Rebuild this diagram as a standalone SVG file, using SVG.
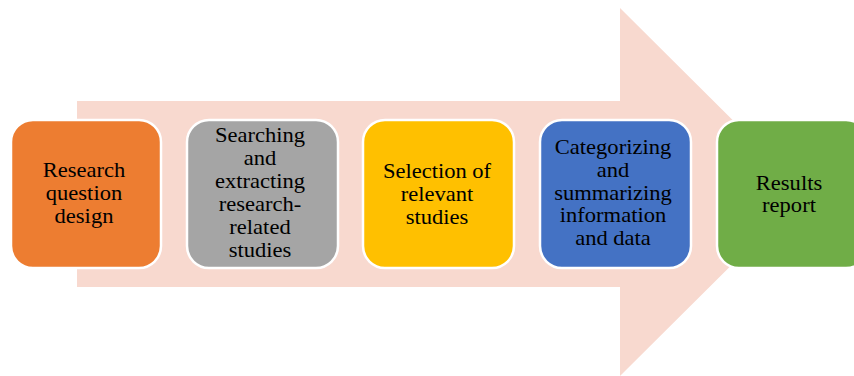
<svg xmlns="http://www.w3.org/2000/svg" width="854" height="376" viewBox="0 0 854 376">
<style>
.box{stroke:#fff;stroke-width:2.5}
text{font-family:'Liberation Serif','DejaVu Serif',serif;font-size:20.5px;fill:#000;text-anchor:middle}
</style>
<rect width="854" height="376" fill="#fff"/>
<g id="arrow">
<polygon points="77,101 620,101 620,8 805,192 620,376 620,287 77,287" fill="#F8D9CF"/>
</g>
<g id="n1">
<rect class="box" x="11" y="120" width="150" height="148" rx="22" fill="#ED7D31"/>
<g transform="translate(84,0) scale(1.1,1)">
<text x="0" y="177">Research</text>
<text x="0" y="200">question</text>
<text x="0" y="223">design</text>
</g>
</g>
<g id="n2">
<rect class="box" x="187" y="120" width="151" height="148" rx="22" fill="#A5A5A5"/>
<g transform="translate(260,0) scale(1.1,1)">
<text x="0" y="142">Searching</text>
<text x="0" y="165">and</text>
<text x="0" y="188">extracting</text>
<text x="0" y="211">research-</text>
<text x="0" y="234">related</text>
<text x="0" y="257">studies</text>
</g>
</g>
<g id="n3">
<rect class="box" x="363" y="120" width="151" height="148" rx="22" fill="#FFC000"/>
<g transform="translate(437,0) scale(1.1,1)">
<text x="0" y="178">Selection of</text>
<text x="0" y="201">relevant</text>
<text x="0" y="224">studies</text>
</g>
</g>
<g id="n4">
<rect class="box" x="540" y="120" width="151" height="148" rx="22" fill="#4472C4"/>
<g transform="translate(613,0) scale(1.1,1)">
<text x="0" y="154">Categorizing</text>
<text x="0" y="177">and</text>
<text x="0" y="200">summarizing</text>
<text x="0" y="222">information</text>
<text x="0" y="245">and data</text>
</g>
</g>
<g id="n5">
<rect class="box" x="717" y="120" width="151" height="148" rx="22" fill="#70AD47"/>
<g transform="translate(789,0) scale(1.1,1)">
<text x="0" y="190">Results</text>
<text x="0" y="212">report</text>
</g>
</g>
<g id="connectors"></g>
</svg>
